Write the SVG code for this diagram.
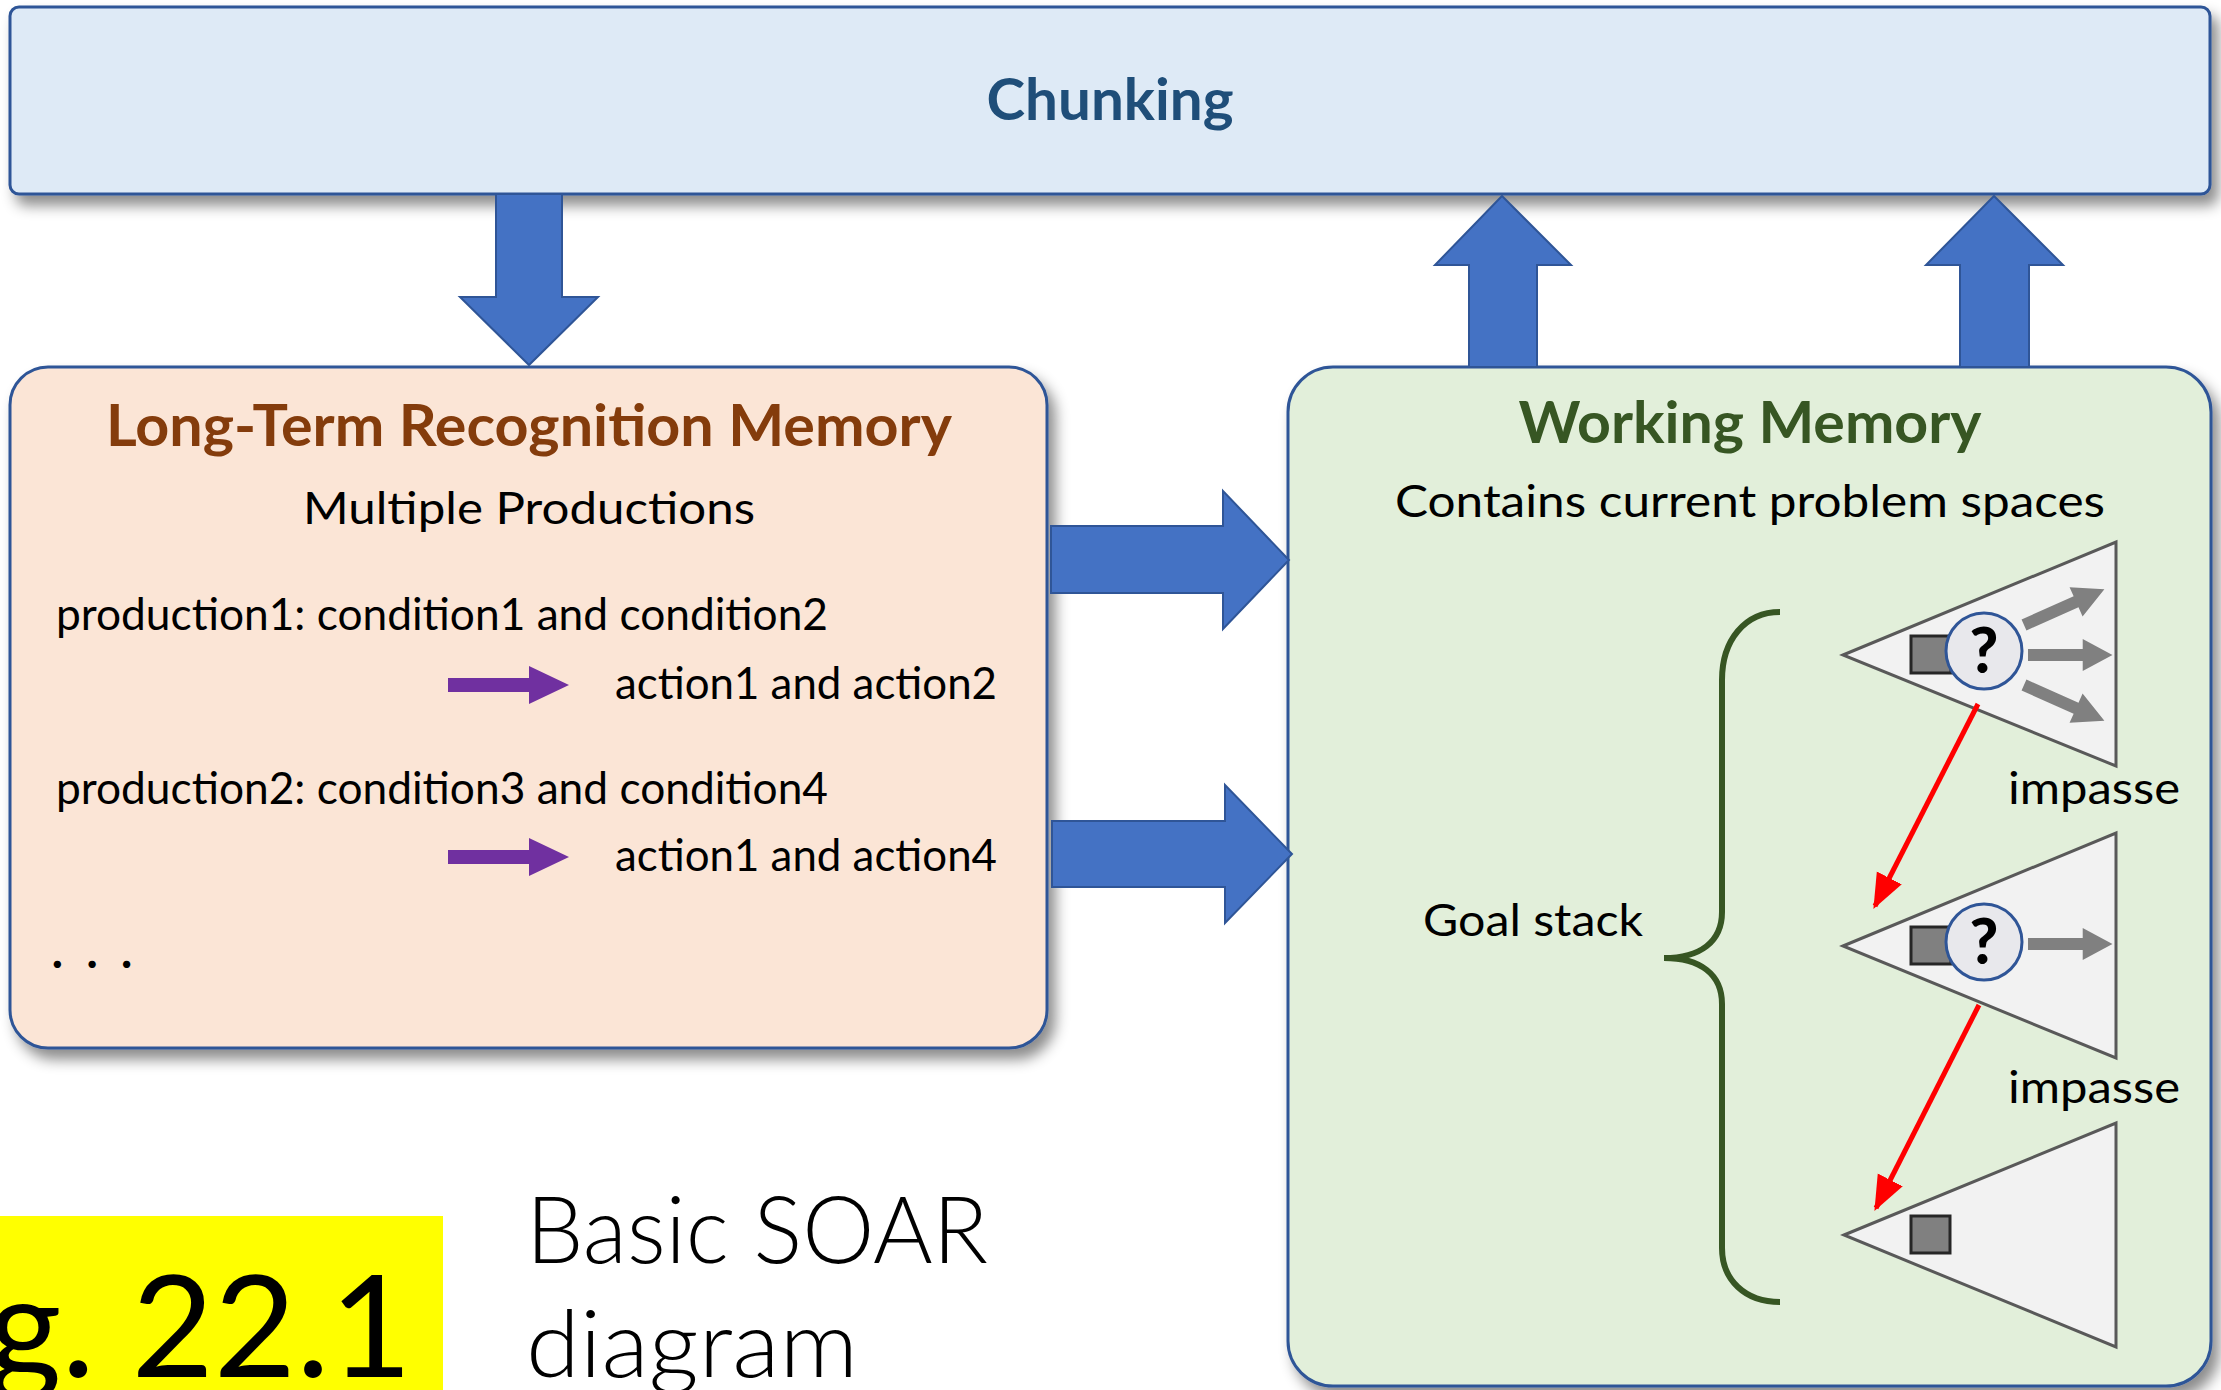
<svg xmlns="http://www.w3.org/2000/svg" xmlns:xlink="http://www.w3.org/1999/xlink" width="2221" height="1390" viewBox="0 0 2221 1390">
<defs>
<style>
.t{font-family:Lato,"Open Sans","Liberation Sans",sans-serif;}
.hdr{font-weight:bold;font-size:58px;text-anchor:middle;}
.body{font-size:45px;fill:#000;}
.block{fill:#4472C4;stroke:#2F5597;stroke-width:2;}
.purple{fill:#7030A0;}
.tri{fill:#F2F2F2;stroke:#595959;stroke-width:3;}
.sq{fill:#808080;stroke:#262626;stroke-width:3;}
.circ{fill:#E8E8EC;stroke:#2F5597;stroke-width:3;}
.q{font-weight:900;font-size:62px;text-anchor:middle;fill:#000;}
.red{stroke:#FF0000;stroke-width:5;fill:none;}
.gray{fill:#808080;}
</style>
<filter id="sh" x="-5%" y="-5%" width="115%" height="130%">
<feDropShadow dx="7" dy="10" stdDeviation="7" flood-color="#000" flood-opacity="0.45"/>
</filter>
<marker id="rh" viewBox="0 0 10 10" refX="9" refY="5" markerWidth="7" markerHeight="7" orient="auto" markerUnits="strokeWidth">
<path d="M0,1 L10,5 L0,9 Z" fill="#FF0000"/>
</marker>
<path id="garrow" d="M0,-6 L57,-6 L57,-16 L88,0 L57,16 L57,6 L0,6 Z"/>
</defs>
<rect width="2221" height="1390" fill="#FFFFFF"/>

<g id="chunking">
<rect x="10" y="7" width="2200" height="187" rx="9" fill="#DEEAF6" stroke="#2F5597" stroke-width="3" filter="url(#sh)"/>
<text class="t hdr" x="1110" y="120" fill="#1F4E79" textLength="247" lengthAdjust="spacingAndGlyphs">Chunking</text>
</g>

<g id="ltrm">
<rect x="10" y="367" width="1037" height="681" rx="38" fill="#FBE5D6" stroke="#2F5597" stroke-width="3" filter="url(#sh)"/>
<text class="t hdr" x="529" y="446" fill="#843C0C" textLength="846" lengthAdjust="spacingAndGlyphs">Long-Term Recognition Memory</text>
<text class="t body" x="529" y="524" text-anchor="middle" textLength="452" lengthAdjust="spacingAndGlyphs">Multiple Productions</text>
<text class="t body" x="56" y="630" textLength="772" lengthAdjust="spacingAndGlyphs">production1: condition1 and condition2</text>
<polygon class="purple" points="448,678 529,678 529,666 569,685 529,704 529,692 448,692"/>
<text class="t body" x="615" y="699" textLength="382" lengthAdjust="spacingAndGlyphs">action1 and action2</text>
<text class="t body" x="56" y="804" textLength="772" lengthAdjust="spacingAndGlyphs">production2: condition3 and condition4</text>
<polygon class="purple" points="448,850 529,850 529,838 569,857 529,876 529,864 448,864"/>
<text class="t body" x="615" y="871" textLength="382" lengthAdjust="spacingAndGlyphs">action1 and action4</text>
<text class="t body" x="52" y="968" font-weight="900" font-size="64" textLength="80" lengthAdjust="spacing">. . .</text>
</g>

<g id="working-memory">
<rect x="1288" y="367" width="923" height="1019" rx="45" fill="#E2EFDA" stroke="#2F5597" stroke-width="3" filter="url(#sh)"/>
<text class="t hdr" x="1750" y="443" fill="#375623" textLength="463" lengthAdjust="spacingAndGlyphs">Working Memory</text>
<text class="t body" x="1750" y="517" text-anchor="middle" textLength="710" lengthAdjust="spacingAndGlyphs">Contains current problem spaces</text>
<text class="t body" x="1423" y="936" textLength="220" lengthAdjust="spacingAndGlyphs">Goal stack</text>
<path d="M1780,612 C1745,612 1722,640 1722,680 L1722,912 C1722,942 1700,958 1664,958 C1700,958 1722,974 1722,1004 L1722,1248 C1722,1280 1745,1302 1780,1302" fill="none" stroke="#375623" stroke-width="6"/>
</g>

<g id="space1">
<polygon class="tri" points="1843,655 2116,542 2116,766"/>
<rect class="sq" x="1911" y="636" width="40" height="37"/>
<circle class="circ" cx="1984" cy="651" r="38"/>
<text class="t q" x="1984" y="673">?</text>
<use xlink:href="#garrow" class="gray" transform="translate(2024,625) rotate(-24)"/>
<use xlink:href="#garrow" class="gray" transform="translate(2028,655) scale(0.96,1)"/>
<use xlink:href="#garrow" class="gray" transform="translate(2024,685) rotate(24)"/>
<text class="t body" x="2008" y="804" textLength="172" lengthAdjust="spacingAndGlyphs">impasse</text>
</g>

<g id="space2">
<polygon class="tri" points="1843,946 2116,833 2116,1058"/>
<rect class="sq" x="1911" y="927" width="40" height="37"/>
<circle class="circ" cx="1984" cy="942" r="38"/>
<text class="t q" x="1984" y="964">?</text>
<use xlink:href="#garrow" class="gray" transform="translate(2028,944) scale(0.96,1)"/>
<text class="t body" x="2008" y="1103" textLength="172" lengthAdjust="spacingAndGlyphs">impasse</text>
</g>

<g id="space3">
<polygon class="tri" points="1844,1235 2116,1123 2116,1347"/>
<rect class="sq" x="1911" y="1216" width="39" height="37"/>
</g>

<g id="caption">
<rect x="0" y="1216" width="443" height="174" fill="#FFFF00"/>
<text class="t" x="412" y="1377" font-size="142" text-anchor="end" fill="#000">g. 22.1</text>
<text class="t" x="526" y="1263" font-size="93" font-weight="300" fill="#000" textLength="462" lengthAdjust="spacingAndGlyphs">Basic SOAR</text>
<text class="t" x="526" y="1377" font-size="93" font-weight="300" fill="#000" textLength="332" lengthAdjust="spacingAndGlyphs">diagram</text>
</g>

<g id="connectors">
<polygon class="block" points="496,194 562,194 562,297 598,297 529,365 460,297 496,297"/>
<polygon class="block" points="1502,196 1571,265 1537,265 1537,367 1469,367 1469,265 1435,265"/>
<polygon class="block" points="1994,196 2063,265 2029,265 2029,367 1960,367 1960,265 1926,265"/>
<polygon class="block" points="1051,526 1223,526 1223,491 1289,560 1223,629 1223,593 1051,593"/>
<polygon class="block" points="1052,821 1225,821 1225,785 1292,854 1225,923 1225,887 1052,887"/>
<line class="red" x1="1978" y1="704" x2="1875" y2="906" marker-end="url(#rh)"/>
<line class="red" x1="1979" y1="1005" x2="1876" y2="1208" marker-end="url(#rh)"/>
</g>
</svg>
